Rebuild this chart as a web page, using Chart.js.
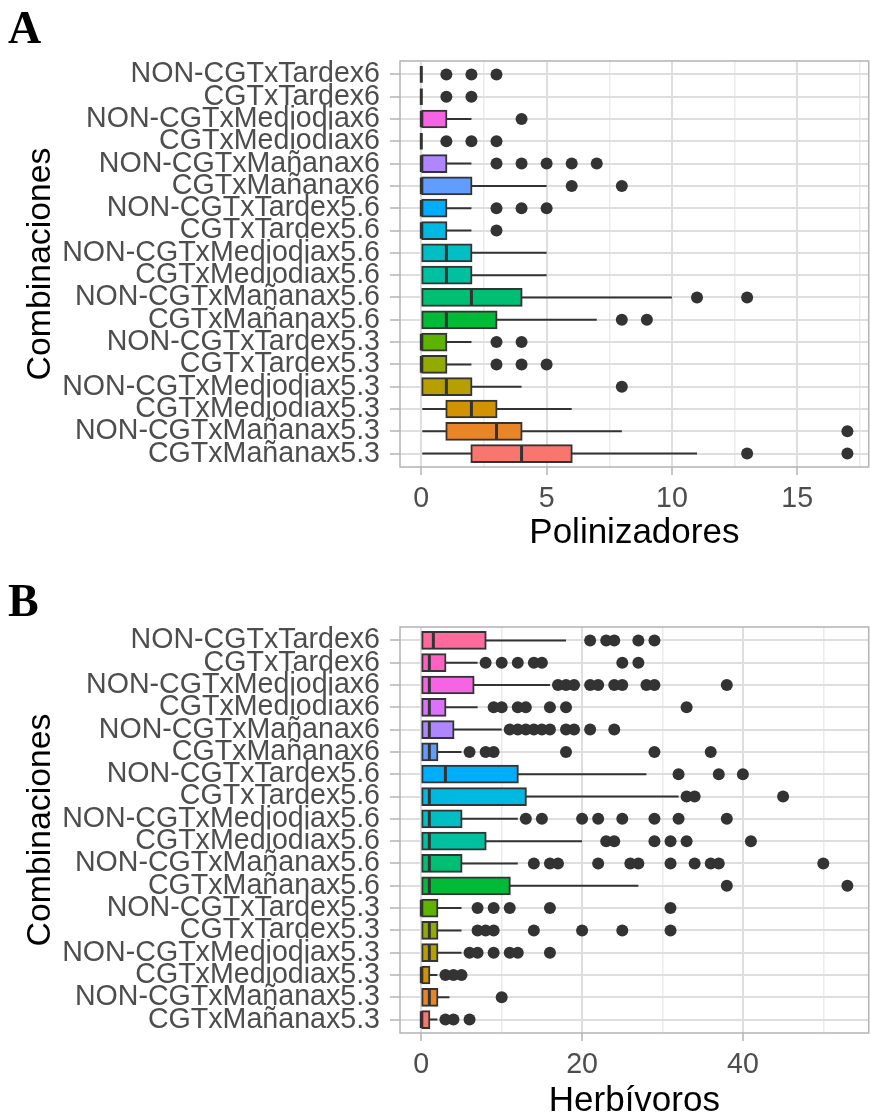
<!DOCTYPE html>
<html>
<head>
<meta charset="utf-8">
<script src="https://cdn.jsdelivr.net/npm/chart.js@4.4.1/dist/chart.umd.min.js"></script>
<style>
  html, body { margin: 0; padding: 0; background: #fff; }
  body { width: 870px; height: 1115px; overflow: hidden; position: relative; }
  canvas { position: absolute; left: 0; }
  .tag { position: absolute; left: 8px; font: bold 46px "Liberation Serif", "Times New Roman", serif; line-height: 46px; color: #000; }
</style>
</head>
<body>
<canvas id="chartA" style="top:0" width="880" height="560"></canvas>
<canvas id="chartB" style="top:560px" width="880" height="555"></canvas>
<div class="tag" style="top:5px">A</div>
<div class="tag" style="top:578px">B</div>
<script>
// categories, top row first
var categories = ['NON-CGTxTardex6', 'CGTxTardex6', 'NON-CGTxMediodiax6', 'CGTxMediodiax6',
  'NON-CGTxMañanax6', 'CGTxMañanax6', 'NON-CGTxTardex5.6', 'CGTxTardex5.6',
  'NON-CGTxMediodiax5.6', 'CGTxMediodiax5.6', 'NON-CGTxMañanax5.6', 'CGTxMañanax5.6',
  'NON-CGTxTardex5.3', 'CGTxTardex5.3', 'NON-CGTxMediodiax5.3', 'CGTxMediodiax5.3',
  'NON-CGTxMañanax5.3', 'CGTxMañanax5.3'];

// A - Polinizadores
var polLow    = [0, 0, 0, 0, 0, 0, 0, 0, 0, 0, 0, 0, 0, 0, 0, 0, 0, 0];
var polQ1     = [0, 0, 0, 0, 0, 0, 0, 0, 0, 0, 0, 0, 0, 0, 0, 1, 1, 2];
var polMedian = [0, 0, 0, 0, 0, 0, 0, 0, 1, 1, 2, 1, 0, 0, 1, 2, 3, 4];
var polQ3     = [0, 0, 1, 0, 1, 2, 1, 1, 2, 2, 4, 3, 1, 1, 2, 3, 4, 6];
var polHigh   = [0, 0, 2, 0, 2, 5, 2, 2, 5, 5, 10, 7, 2, 2, 4, 6, 8, 11];
var polOutliers = [[1, 2, 3], [1, 2], [4], [1, 2, 3], [3, 4, 5, 6, 7], [6, 8], [3, 4, 5], [3],
  [], [], [11, 13], [8, 9], [3, 4], [3, 4, 5], [8], [], [17], [13, 17]];
var polTicks = [0, 5, 10, 15];
var polMinorTicks = [2.5, 7.5, 12.5, 17.5];

// B - Herbivoros
var herbLow    = [0, 0, 0, 0, 0, 0, 0, 0, 0, 0, 0, 0, 0, 0, 0, 0, 0, 0];
var herbQ1     = [0, 0, 0, 0, 0, 0, 0, 0, 0, 0, 0, 0, 0, 0, 0, 0, 0, 0];
var herbMedian = [1.5, 1, 1, 1, 1, 1, 3, 1, 1, 1, 1, 1, 0, 1, 1, 0, 1, 0];
var herbQ3     = [8, 3, 6.5, 3, 4, 2, 12, 13, 5, 8, 5, 11, 2, 2, 2, 1, 2, 1];
var herbHigh   = [18, 7, 16, 7, 10, 5, 28, 32, 12, 20, 12, 27, 5, 5, 5, 2, 3.5, 2];
var herbOutliers = [[21, 23, 24, 27, 29], [8, 10, 12, 14, 15, 25, 27],
  [17, 18, 19, 21, 22, 24, 25, 28, 29, 38], [9, 10, 12, 13, 16, 18, 33],
  [11, 12, 13, 14, 15, 16, 18, 19, 21, 24], [6, 8, 9, 18, 29, 36], [32, 37, 40], [33, 34, 45],
  [13, 15, 20, 22, 25, 29, 32, 38], [23, 24, 29, 31, 33, 41],
  [14, 16, 17, 22, 26, 27, 31, 34, 36, 37, 50], [38, 53], [7, 9, 11, 16, 31],
  [7, 8, 9, 14, 20, 25, 31], [6, 7, 9, 11, 12, 16], [3, 4, 5], [10], [3, 4, 6]];
var herbTicks = [0, 20, 40];
var herbMinorTicks = [10, 30, 50];

// ggplot hue palette, same order as categories
var palette = ['#FF699C', '#FF61C3', '#F564E3', '#DB72FB', '#AE87FF', '#619CFF', '#00ADFA', '#00B9E3',
  '#00BFC4', '#00C19F', '#00BF74', '#00BA38', '#5EB300', '#93AA00', '#B79F00', '#D39200', '#E88526', '#F8766D'];

var FONT = '"Liberation Sans", Arial, sans-serif';
var INK = '#333333';

// draws the grey frame round the panel
var panelBorder = {
  id: 'panelBorder',
  afterDraw: function(chart) {
    var a = chart.chartArea, ctx = chart.ctx;
    ctx.save();
    ctx.strokeStyle = '#B3B3B3';
    ctx.lineWidth = 1.5;
    ctx.strokeRect(a.left, a.top, a.right - a.left, a.bottom - a.top);
    ctx.restore();
  }
};

function drawBoxplot(canvasId, d) {
  var boxes = [], lowW = [], highW = [], meds = [], outs = [];
  var lo = Infinity, hi = -Infinity;
  for (var i = 0; i < categories.length; i++) {
    boxes.push([d.q1[i], d.q3[i]]);
    lowW.push([d.low[i], d.q1[i]]);
    highW.push([d.q3[i], d.high[i]]);
    meds.push({x: d.median[i], y: categories[i]});
    d.outliers[i].forEach(function(v) { outs.push({x: v, y: categories[i]}); });
    var all = [d.low[i], d.high[i]].concat(d.outliers[i]);
    lo = Math.min.apply(null, [lo].concat(all));
    hi = Math.max.apply(null, [hi].concat(all));
  }
  //5% expansion on the continuous axis, like ggplot
  var pad = (hi - lo) * 0.05;
  var isMajor = function(v) { return d.ticks.indexOf(v) >= 0; };

  return new Chart(document.getElementById(canvasId), {
    type: 'bar',
    data: {
      labels: categories,
      datasets: [
        { type: 'scatter', data: outs, pointRadius: 6, pointBackgroundColor: INK, pointBorderWidth: 0, order: 0 },
        { type: 'scatter', data: meds, pointStyle: 'line', pointRotation: 90, pointRadius: 8.3,
          pointBorderColor: INK, pointBorderWidth: 3, order: 1 },
        { data: boxes, backgroundColor: palette, borderColor: INK, borderWidth: 2, borderSkipped: false,
          inflateAmount: 1, grouped: false, categoryPercentage: 1, barPercentage: 0.75, order: 2 },
        { data: lowW, backgroundColor: INK, borderWidth: 0, barThickness: 2, inflateAmount: 0, grouped: false, order: 3 },
        { data: highW, backgroundColor: INK, borderWidth: 0, barThickness: 2, inflateAmount: 0, grouped: false, order: 3 }
      ]
    },
    options: {
      indexAxis: 'y',
      responsive: false,
      animation: false,
      events: [],
      layout: { padding: { top: d.top, left: 0, right: 5, bottom: 0 } },
      plugins: { legend: { display: false }, tooltip: { enabled: false } },
      scales: {
        x: {
          type: 'linear',
          min: lo - pad,
          max: hi + pad,
          offset: false,
          afterBuildTicks: function(scale) {
            scale.ticks = d.ticks.concat(d.minor).sort(function(a, b) { return a - b; })
              .map(function(v) { return {value: v}; });
          },
          afterFit: function(scale) { scale.height = d.axisHeight; },
          border: { display: false },
          grid: {
            offset: false,
            color: function(c) { return c.tick && isMajor(c.tick.value) ? '#DEDEDE' : '#EBEBEB'; },
            lineWidth: function(c) { return c.tick && isMajor(c.tick.value) ? 2 : 1.5; },
            tickColor: function(c) { return c.tick && isMajor(c.tick.value) ? '#B3B3B3' : 'rgba(0,0,0,0)'; },
            tickLength: 8,
            tickWidth: 1.5
          },
          ticks: {
            autoSkip: false,
            maxRotation: 0,
            padding: 7,
            color: '#4D4D4D',
            font: { family: FONT, size: 28.6 },
            callback: function(v) { return isMajor(v) ? String(v) : ''; }
          },
          title: {
            display: true,
            text: d.title,
            color: '#000',
            font: { family: FONT, size: 35, lineHeight: 1 },
            padding: { top: 0, bottom: d.titlePad }
          }
        },
        y: {
          type: 'category',
          offset: true,
          afterBuildTicks: function(scale) {
            // discrete axis padded by 0.6 of a category, as ggplot does
            scale._startValue = -0.6;
            scale._valueRange = scale.ticks.length - 1 + 1.2;
          },
          afterFit: function(scale) { scale.width = 400; },
          border: { display: false },
          grid: { offset: false, color: '#DEDEDE', lineWidth: 2, tickColor: '#B3B3B3', tickLength: 10, tickWidth: 1.5 },
          ticks: { autoSkip: false, padding: 10, color: '#4D4D4D', font: { family: FONT, size: 28.6 } },
          title: {
            display: true,
            text: 'Combinaciones',
            color: '#000',
            font: { family: FONT, size: 33.8, lineHeight: 1 },
            padding: { top: 24, bottom: 0 }
          }
        }
      }
    },
    plugins: [panelBorder]
  });
}

drawBoxplot('chartA', {
  low: polLow, q1: polQ1, median: polMedian, q3: polQ3, high: polHigh, outliers: polOutliers,
  ticks: polTicks, minor: polMinorTicks, title: 'Polinizadores', top: 61, axisHeight: 93, titlePad: 9
});
drawBoxplot('chartB', {
  low: herbLow, q1: herbQ1, median: herbMedian, q3: herbQ3, high: herbHigh, outliers: herbOutliers,
  ticks: herbTicks, minor: herbMinorTicks, title: 'Herbívoros', top: 67, axisHeight: 82, titlePad: -4
});
</script>
</body>
</html>
